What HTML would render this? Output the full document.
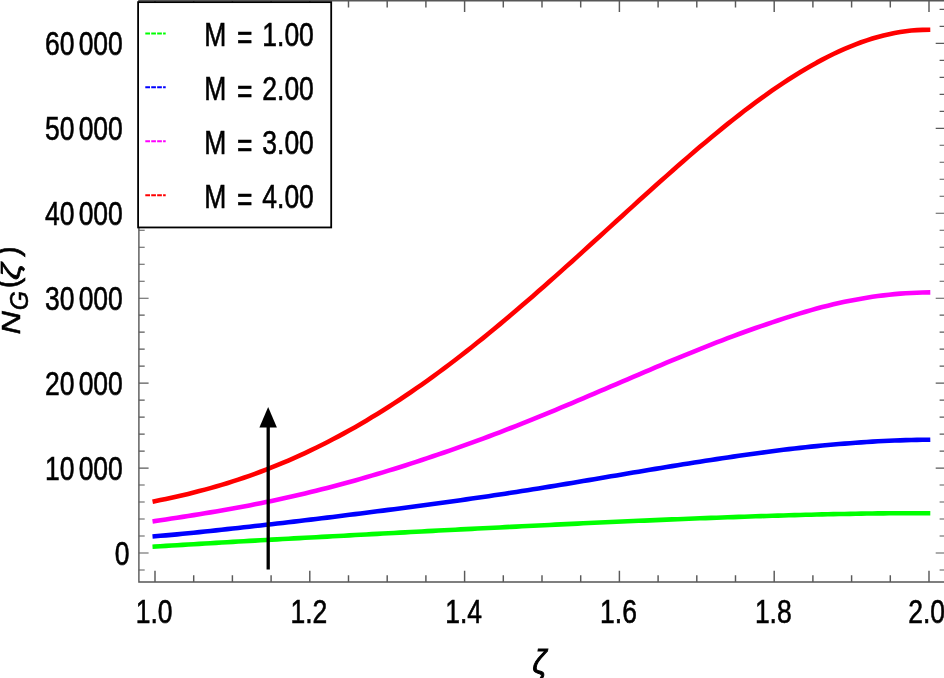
<!DOCTYPE html>
<html><head><meta charset="utf-8"><title>plot</title>
<style>html,body{margin:0;padding:0;background:#fff}svg{display:block}text{font-family:"Liberation Sans",sans-serif;fill:#000;stroke:#000;stroke-width:0.6px}</style></head><body>
<svg width="944" height="678" viewBox="0 0 944 678">
<rect width="944" height="678" fill="#fff"/>
<path d="M154.8,546.58 L160.4,546.23 L165.9,545.89 L171.5,545.54 L177.1,545.20 L182.6,544.86 L188.2,544.52 L193.7,544.18 L199.3,543.85 L204.9,543.52 L210.4,543.18 L216.0,542.85 L221.6,542.53 L227.1,542.20 L232.7,541.87 L238.2,541.55 L243.8,541.23 L249.4,540.91 L254.9,540.59 L260.5,540.28 L266.1,539.96 L271.6,539.65 L277.2,539.34 L282.7,539.03 L288.3,538.72 L293.9,538.41 L299.4,538.11 L305.0,537.81 L310.6,537.50 L316.1,537.20 L321.7,536.90 L327.2,536.60 L332.8,536.29 L338.4,535.99 L343.9,535.68 L349.5,535.38 L355.1,535.07 L360.6,534.77 L366.2,534.46 L371.7,534.15 L377.3,533.85 L382.9,533.55 L388.4,533.24 L394.0,532.94 L399.6,532.64 L405.1,532.34 L410.7,532.04 L416.2,531.74 L421.8,531.45 L427.4,531.15 L432.9,530.86 L438.5,530.57 L444.1,530.28 L449.6,529.99 L455.2,529.71 L460.7,529.42 L466.3,529.14 L471.9,528.85 L477.4,528.57 L483.0,528.28 L488.6,528.00 L494.1,527.71 L499.7,527.43 L505.2,527.15 L510.8,526.87 L516.4,526.59 L521.9,526.31 L527.5,526.03 L533.1,525.75 L538.6,525.48 L544.2,525.20 L549.7,524.93 L555.3,524.66 L560.9,524.39 L566.4,524.12 L572.0,523.85 L577.6,523.59 L583.1,523.32 L588.7,523.06 L594.2,522.80 L599.8,522.54 L605.4,522.29 L610.9,522.04 L616.5,521.79 L622.1,521.54 L627.6,521.30 L633.2,521.05 L638.7,520.81 L644.3,520.58 L649.9,520.34 L655.4,520.11 L661.0,519.88 L666.6,519.65 L672.1,519.42 L677.7,519.20 L683.2,518.98 L688.8,518.76 L694.4,518.54 L699.9,518.32 L705.5,518.11 L711.1,517.90 L716.6,517.69 L722.2,517.48 L727.7,517.28 L733.3,517.08 L738.9,516.88 L744.4,516.68 L750.0,516.49 L755.6,516.31 L761.1,516.12 L766.7,515.95 L772.2,515.77 L777.8,515.60 L783.4,515.44 L788.9,515.28 L794.5,515.12 L800.1,514.97 L805.6,514.82 L811.2,514.68 L816.7,514.54 L822.3,514.41 L827.9,514.29 L833.4,514.16 L839.0,514.05 L844.6,513.94 L850.1,513.83 L855.7,513.73 L861.2,513.64 L866.8,513.56 L872.4,513.48 L877.9,513.41 L883.5,513.35 L889.1,513.30 L894.6,513.26 L900.2,513.23 L905.7,513.20 L911.3,513.19 L916.9,513.19 L922.4,513.19 L928.0,513.21" fill="none" stroke="#00ff00" stroke-width="4.6" stroke-linecap="square" stroke-linejoin="round"/>
<path d="M154.8,536.29 L160.4,535.83 L165.9,535.35 L171.5,534.86 L177.1,534.34 L182.6,533.81 L188.2,533.26 L193.7,532.70 L199.3,532.13 L204.9,531.55 L210.4,530.96 L216.0,530.36 L221.6,529.76 L227.1,529.15 L232.7,528.53 L238.2,527.92 L243.8,527.30 L249.4,526.68 L254.9,526.06 L260.5,525.44 L266.1,524.82 L271.6,524.19 L277.2,523.56 L282.7,522.92 L288.3,522.27 L293.9,521.62 L299.4,520.96 L305.0,520.29 L310.6,519.63 L316.1,518.95 L321.7,518.28 L327.2,517.60 L332.8,516.91 L338.4,516.23 L343.9,515.54 L349.5,514.84 L355.1,514.14 L360.6,513.44 L366.2,512.74 L371.7,512.03 L377.3,511.32 L382.9,510.60 L388.4,509.88 L394.0,509.16 L399.6,508.43 L405.1,507.70 L410.7,506.97 L416.2,506.23 L421.8,505.49 L427.4,504.74 L432.9,503.99 L438.5,503.24 L444.1,502.48 L449.6,501.72 L455.2,500.95 L460.7,500.17 L466.3,499.39 L471.9,498.59 L477.4,497.79 L483.0,496.98 L488.6,496.17 L494.1,495.34 L499.7,494.51 L505.2,493.67 L510.8,492.81 L516.4,491.96 L521.9,491.09 L527.5,490.22 L533.1,489.33 L538.6,488.44 L544.2,487.55 L549.7,486.64 L555.3,485.73 L560.9,484.81 L566.4,483.89 L572.0,482.96 L577.6,482.03 L583.1,481.09 L588.7,480.14 L594.2,479.20 L599.8,478.25 L605.4,477.30 L610.9,476.35 L616.5,475.40 L622.1,474.46 L627.6,473.52 L633.2,472.58 L638.7,471.65 L644.3,470.72 L649.9,469.79 L655.4,468.87 L661.0,467.96 L666.6,467.04 L672.1,466.14 L677.7,465.24 L683.2,464.34 L688.8,463.46 L694.4,462.58 L699.9,461.70 L705.5,460.84 L711.1,459.98 L716.6,459.13 L722.2,458.29 L727.7,457.46 L733.3,456.64 L738.9,455.83 L744.4,455.03 L750.0,454.24 L755.6,453.47 L761.1,452.71 L766.7,451.96 L772.2,451.23 L777.8,450.52 L783.4,449.82 L788.9,449.15 L794.5,448.49 L800.1,447.86 L805.6,447.25 L811.2,446.66 L816.7,446.09 L822.3,445.54 L827.9,445.02 L833.4,444.52 L839.0,444.04 L844.6,443.59 L850.1,443.17 L855.7,442.76 L861.2,442.36 L866.8,441.99 L872.4,441.63 L877.9,441.30 L883.5,441.01 L889.1,440.75 L894.6,440.53 L900.2,440.33 L905.7,440.17 L911.3,440.02 L916.9,439.91 L922.4,439.81 L928.0,439.73" fill="none" stroke="#0000ff" stroke-width="4.6" stroke-linecap="square" stroke-linejoin="round"/>
<path d="M154.8,521.12 L160.4,520.28 L165.9,519.44 L171.5,518.60 L177.1,517.74 L182.6,516.88 L188.2,516.01 L193.7,515.12 L199.3,514.23 L204.9,513.32 L210.4,512.39 L216.0,511.45 L221.6,510.49 L227.1,509.51 L232.7,508.52 L238.2,507.50 L243.8,506.46 L249.4,505.39 L254.9,504.30 L260.5,503.18 L266.1,502.04 L271.6,500.88 L277.2,499.69 L282.7,498.49 L288.3,497.26 L293.9,496.01 L299.4,494.73 L305.0,493.42 L310.6,492.09 L316.1,490.72 L321.7,489.33 L327.2,487.91 L332.8,486.47 L338.4,485.00 L343.9,483.50 L349.5,481.98 L355.1,480.43 L360.6,478.86 L366.2,477.27 L371.7,475.65 L377.3,474.01 L382.9,472.35 L388.4,470.67 L394.0,468.96 L399.6,467.22 L405.1,465.46 L410.7,463.67 L416.2,461.86 L421.8,460.01 L427.4,458.14 L432.9,456.27 L438.5,454.38 L444.1,452.48 L449.6,450.56 L455.2,448.61 L460.7,446.65 L466.3,444.66 L471.9,442.64 L477.4,440.61 L483.0,438.56 L488.6,436.49 L494.1,434.40 L499.7,432.28 L505.2,430.14 L510.8,427.98 L516.4,425.80 L521.9,423.61 L527.5,421.39 L533.1,419.15 L538.6,416.89 L544.2,414.61 L549.7,412.32 L555.3,410.01 L560.9,407.69 L566.4,405.36 L572.0,403.02 L577.6,400.67 L583.1,398.32 L588.7,395.95 L594.2,393.58 L599.8,391.21 L605.4,388.83 L610.9,386.44 L616.5,384.06 L622.1,381.67 L627.6,379.28 L633.2,376.90 L638.7,374.52 L644.3,372.14 L649.9,369.78 L655.4,367.42 L661.0,365.07 L666.6,362.73 L672.1,360.40 L677.7,358.09 L683.2,355.80 L688.8,353.52 L694.4,351.26 L699.9,349.02 L705.5,346.80 L711.1,344.61 L716.6,342.44 L722.2,340.29 L727.7,338.17 L733.3,336.09 L738.9,334.03 L744.4,332.00 L750.0,330.00 L755.6,328.04 L761.1,326.11 L766.7,324.22 L772.2,322.37 L777.8,320.54 L783.4,318.68 L788.9,316.84 L794.5,315.08 L800.1,313.37 L805.6,311.71 L811.2,310.11 L816.7,308.56 L822.3,307.08 L827.9,305.67 L833.4,304.33 L839.0,303.06 L844.6,301.86 L850.1,300.72 L855.7,299.64 L861.2,298.64 L866.8,297.71 L872.4,296.85 L877.9,296.06 L883.5,295.35 L889.1,294.71 L894.6,294.15 L900.2,293.66 L905.7,293.25 L911.3,292.93 L916.9,292.68 L922.4,292.52 L928.0,292.45" fill="none" stroke="#ff00ff" stroke-width="4.6" stroke-linecap="square" stroke-linejoin="round"/>
<path d="M154.8,501.24 L160.4,500.11 L165.9,498.95 L171.5,497.75 L177.1,496.51 L182.6,495.23 L188.2,493.90 L193.7,492.53 L199.3,491.10 L204.9,489.63 L210.4,488.10 L216.0,486.52 L221.6,484.88 L227.1,483.18 L232.7,481.42 L238.2,479.61 L243.8,477.73 L249.4,475.80 L254.9,473.80 L260.5,471.74 L266.1,469.62 L271.6,467.44 L277.2,465.20 L282.7,462.90 L288.3,460.53 L293.9,458.10 L299.4,455.61 L305.0,453.05 L310.6,450.43 L316.1,447.75 L321.7,445.00 L327.2,442.19 L332.8,439.31 L338.4,436.37 L343.9,433.36 L349.5,430.29 L355.1,427.15 L360.6,423.94 L366.2,420.68 L371.7,417.34 L377.3,413.95 L382.9,410.48 L388.4,406.96 L394.0,403.37 L399.6,399.72 L405.1,396.01 L410.7,392.24 L416.2,388.41 L421.8,384.52 L427.4,380.57 L432.9,376.56 L438.5,372.50 L444.1,368.38 L449.6,364.21 L455.2,359.98 L460.7,355.70 L466.3,351.37 L471.9,346.99 L477.4,342.56 L483.0,338.09 L488.6,333.57 L494.1,329.00 L499.7,324.39 L505.2,319.75 L510.8,315.06 L516.4,310.33 L521.9,305.57 L527.5,300.78 L533.1,295.95 L538.6,291.09 L544.2,286.20 L549.7,281.29 L555.3,276.35 L560.9,271.39 L566.4,266.41 L572.0,261.41 L577.6,256.40 L583.1,251.37 L588.7,246.33 L594.2,241.28 L599.8,236.22 L605.4,231.16 L610.9,226.09 L616.5,221.03 L622.1,215.96 L627.6,210.91 L633.2,205.86 L638.7,200.82 L644.3,195.79 L649.9,190.78 L655.4,185.79 L661.0,180.82 L666.6,175.87 L672.1,170.95 L677.7,166.06 L683.2,161.21 L688.8,156.38 L694.4,151.60 L699.9,146.86 L705.5,142.16 L711.1,137.52 L716.6,132.92 L722.2,128.38 L727.7,123.89 L733.3,119.47 L738.9,115.10 L744.4,110.81 L750.0,106.59 L755.6,102.44 L761.1,98.37 L766.7,94.37 L772.2,90.46 L777.8,86.64 L783.4,82.91 L788.9,79.28 L794.5,75.74 L800.1,72.31 L805.6,68.97 L811.2,65.75 L816.7,62.64 L822.3,59.65 L827.9,56.78 L833.4,54.03 L839.0,51.41 L844.6,48.91 L850.1,46.56 L855.7,44.34 L861.2,42.27 L866.8,40.34 L872.4,38.56 L877.9,36.94 L883.5,35.46 L889.1,34.15 L894.6,32.99 L900.2,32.01 L905.7,31.19 L911.3,30.56 L916.9,30.10 L922.4,29.83 L928.0,29.76" fill="none" stroke="#ff0000" stroke-width="4.6" stroke-linecap="square" stroke-linejoin="round"/>
<line x1="268.2" y1="569.5" x2="268.2" y2="426" stroke="#000" stroke-width="3.3"/>
<polygon points="268.15,407.0 259.4,427.5 276.9,427.5" fill="#000"/>
<g stroke="#565656" stroke-width="1.4" fill="none">
<path d="M138.9,0.8 H945.4 V582.0 H138.9 Z"/>
</g>
<g stroke="#5a5a5a" stroke-width="1.15" fill="none">
<path d="M155.0,582.0 v-11.2 M155.0,0.8 v11.2 M193.7,582.0 v-6.8 M193.7,0.8 v6.8 M232.4,582.0 v-6.8 M232.4,0.8 v6.8 M271.1,582.0 v-6.8 M271.1,0.8 v6.8 M309.8,582.0 v-11.2 M309.8,0.8 v11.2 M348.5,582.0 v-6.8 M348.5,0.8 v6.8 M387.2,582.0 v-6.8 M387.2,0.8 v6.8 M425.9,582.0 v-6.8 M425.9,0.8 v6.8 M464.6,582.0 v-11.2 M464.6,0.8 v11.2 M503.3,582.0 v-6.8 M503.3,0.8 v6.8 M542.0,582.0 v-6.8 M542.0,0.8 v6.8 M580.7,582.0 v-6.8 M580.7,0.8 v6.8 M619.4,582.0 v-11.2 M619.4,0.8 v11.2 M658.1,582.0 v-6.8 M658.1,0.8 v6.8 M696.8,582.0 v-6.8 M696.8,0.8 v6.8 M735.5,582.0 v-6.8 M735.5,0.8 v6.8 M774.2,582.0 v-11.2 M774.2,0.8 v11.2 M812.9,582.0 v-6.8 M812.9,0.8 v6.8 M851.6,582.0 v-6.8 M851.6,0.8 v6.8 M890.3,582.0 v-6.8 M890.3,0.8 v6.8 M929.0,582.0 v-11.2 M929.0,0.8 v11.2" stroke-width="1.45"/>
<path d="M138.9,570.0 h5.8 M945.4,570.0 h-5.8 M138.9,553.0 h9.7 M945.4,553.0 h-9.7 M138.9,536.0 h5.8 M945.4,536.0 h-5.8 M138.9,519.0 h5.8 M945.4,519.0 h-5.8 M138.9,502.0 h5.8 M945.4,502.0 h-5.8 M138.9,485.0 h5.8 M945.4,485.0 h-5.8 M138.9,468.1 h9.7 M945.4,468.1 h-9.7 M138.9,451.1 h5.8 M945.4,451.1 h-5.8 M138.9,434.1 h5.8 M945.4,434.1 h-5.8 M138.9,417.1 h5.8 M945.4,417.1 h-5.8 M138.9,400.1 h5.8 M945.4,400.1 h-5.8 M138.9,383.1 h9.7 M945.4,383.1 h-9.7 M138.9,366.1 h5.8 M945.4,366.1 h-5.8 M138.9,349.1 h5.8 M945.4,349.1 h-5.8 M138.9,332.1 h5.8 M945.4,332.1 h-5.8 M138.9,315.1 h5.8 M945.4,315.1 h-5.8 M138.9,298.2 h9.7 M945.4,298.2 h-9.7 M138.9,281.2 h5.8 M945.4,281.2 h-5.8 M138.9,264.2 h5.8 M945.4,264.2 h-5.8 M138.9,247.2 h5.8 M945.4,247.2 h-5.8 M138.9,230.2 h5.8 M945.4,230.2 h-5.8 M138.9,213.2 h9.7 M945.4,213.2 h-9.7 M138.9,196.2 h5.8 M945.4,196.2 h-5.8 M138.9,179.2 h5.8 M945.4,179.2 h-5.8 M138.9,162.2 h5.8 M945.4,162.2 h-5.8 M138.9,145.2 h5.8 M945.4,145.2 h-5.8 M138.9,128.3 h9.7 M945.4,128.3 h-9.7 M138.9,111.3 h5.8 M945.4,111.3 h-5.8 M138.9,94.3 h5.8 M945.4,94.3 h-5.8 M138.9,77.3 h5.8 M945.4,77.3 h-5.8 M138.9,60.3 h5.8 M945.4,60.3 h-5.8 M138.9,43.3 h9.7 M945.4,43.3 h-9.7 M138.9,26.3 h5.8 M945.4,26.3 h-5.8 M138.9,9.3 h5.8 M945.4,9.3 h-5.8"/>
</g>
<text transform="translate(129.4,564.7) scale(0.815,1)" font-size="32.5" text-anchor="end">0</text>
<text transform="translate(122.8,479.8) scale(0.815,1)" font-size="32.5" text-anchor="end">10 <tspan dx="-1.4">000</tspan></text>
<text transform="translate(122.8,394.8) scale(0.815,1)" font-size="32.5" text-anchor="end">20 <tspan dx="-1.4">000</tspan></text>
<text transform="translate(122.8,309.9) scale(0.815,1)" font-size="32.5" text-anchor="end">30 <tspan dx="-1.4">000</tspan></text>
<text transform="translate(122.8,224.9) scale(0.815,1)" font-size="32.5" text-anchor="end">40 <tspan dx="-1.4">000</tspan></text>
<text transform="translate(122.8,140.0) scale(0.815,1)" font-size="32.5" text-anchor="end">50 <tspan dx="-1.4">000</tspan></text>
<text transform="translate(122.8,55.0) scale(0.815,1)" font-size="32.5" text-anchor="end">60 <tspan dx="-1.4">000</tspan></text>
<text transform="translate(154.1,623.2) scale(0.815,1)" font-size="32.5" text-anchor="middle">1.0</text>
<text transform="translate(308.9,623.2) scale(0.815,1)" font-size="32.5" text-anchor="middle">1.2</text>
<text transform="translate(463.7,623.2) scale(0.815,1)" font-size="32.5" text-anchor="middle">1.4</text>
<text transform="translate(618.5,623.2) scale(0.815,1)" font-size="32.5" text-anchor="middle">1.6</text>
<text transform="translate(773.3,623.2) scale(0.815,1)" font-size="32.5" text-anchor="middle">1.8</text>
<text transform="translate(926.7,623.2) scale(0.815,1)" font-size="32.5" text-anchor="middle">2.0</text>
<text transform="translate(532.6,672.5) scale(0.94,1)" font-size="32.5" font-style="italic" style="stroke-width:1px">ζ</text>
<text transform="translate(19.9,334.5) scale(0.815,1.0) rotate(-90)" font-size="32.5" font-style="italic" style="stroke-width:0.6px">N</text>
<text transform="translate(28.0,310.3) scale(0.766,0.76) rotate(-90)" font-size="32.5" font-style="italic" style="stroke-width:0.6px">G</text>
<text transform="translate(18.4,288.5) scale(1.019,1.0) rotate(-90)" font-size="32.5" style="stroke-width:0.6px">(</text>
<text transform="translate(19.9,280.0) scale(0.815,1.12) rotate(-90)" font-size="32.5" font-style="italic" style="stroke-width:0.9px">ζ</text>
<text transform="translate(18.4,257.0) scale(1.019,1.0) rotate(-90)" font-size="32.5" style="stroke-width:0.6px">)</text>
<rect x="138.1" y="2.15" width="193.1" height="225.3" fill="#fff" stroke="#000" stroke-width="1.8"/>
<line x1="145.3" y1="33.4" x2="165.7" y2="33.4" stroke="#00ff00" stroke-width="2" stroke-dasharray="4.7 1.23"/>
<text transform="translate(204.2,45.5) scale(0.815,1)" font-size="32.5" word-spacing="2.6">M<tspan dx="1.65" dy="3.2"> =</tspan><tspan dx="0.4" dy="-3.2"> 1.00</tspan></text>
<line x1="145.3" y1="87.3" x2="165.7" y2="87.3" stroke="#0000ff" stroke-width="2" stroke-dasharray="4.7 1.23"/>
<text transform="translate(204.2,99.5) scale(0.815,1)" font-size="32.5" word-spacing="2.6">M<tspan dx="1.65" dy="3.2"> =</tspan><tspan dx="0.4" dy="-3.2"> 2.00</tspan></text>
<line x1="145.3" y1="141.3" x2="165.7" y2="141.3" stroke="#ff00ff" stroke-width="2" stroke-dasharray="4.7 1.23"/>
<text transform="translate(204.2,153.5) scale(0.815,1)" font-size="32.5" word-spacing="2.6">M<tspan dx="1.65" dy="3.2"> =</tspan><tspan dx="0.4" dy="-3.2"> 3.00</tspan></text>
<line x1="145.3" y1="195.3" x2="165.7" y2="195.3" stroke="#ff0000" stroke-width="2" stroke-dasharray="4.7 1.23"/>
<text transform="translate(204.2,207.5) scale(0.815,1)" font-size="32.5" word-spacing="2.6">M<tspan dx="1.65" dy="3.2"> =</tspan><tspan dx="0.4" dy="-3.2"> 4.00</tspan></text>
</svg></body></html>
